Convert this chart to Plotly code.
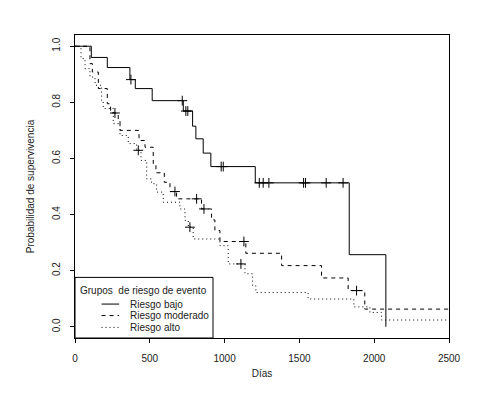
import plotly.graph_objects as go

# ---- data (days, survival probability) ----
groups = ["Riesgo bajo", "Riesgo moderado", "Riesgo alto"]
legend_title = "Grupos  de riesgo de evento"

bajo_times = [0, 109, 216, 367, 403, 516, 724, 786, 808, 857, 908, 1205, 1833, 2078]
bajo_surv = [1.0, 0.960, 0.924, 0.881, 0.849, 0.806, 0.769, 0.715, 0.670, 0.619, 0.571, 0.513, 0.257, 0.0]
bajo_end = 2078
bajo_cens_t = [374, 717, 741, 754, 977, 991, 1232, 1258, 1296, 1528, 1541, 1679, 1792]
bajo_cens_s = [0.881, 0.806, 0.769, 0.769, 0.571, 0.571, 0.513, 0.513, 0.513, 0.513, 0.513, 0.513, 0.513]

mod_times = [0, 100, 116, 156, 216, 238, 289, 301, 428, 468, 523, 541, 597, 635, 679, 846, 913, 935, 969,
             1142, 1381, 1648, 1826, 1937]
mod_surv = [1.0, 0.938, 0.908, 0.849, 0.795, 0.762, 0.736, 0.700, 0.664, 0.640, 0.581, 0.549, 0.515, 0.482,
            0.456, 0.420, 0.381, 0.343, 0.304, 0.262, 0.218, 0.174, 0.129, 0.063]
mod_end = 2500
mod_cens_t = [267, 668, 813, 862, 1129, 1882]
mod_cens_s = [0.762, 0.482, 0.456, 0.420, 0.304, 0.129]

alto_times = [0, 40, 67, 100, 134, 178, 189, 256, 301, 356, 412, 441, 479, 512, 546, 590, 701, 735, 757,
              790, 969, 1024, 1136, 1187, 1209, 1558, 1864, 1971, 2049]
alto_surv = [1.0, 0.956, 0.920, 0.890, 0.861, 0.807, 0.778, 0.724, 0.682, 0.653, 0.629, 0.593, 0.527,
             0.510, 0.480, 0.444, 0.420, 0.379, 0.355, 0.313, 0.289, 0.224, 0.189, 0.146, 0.122, 0.099,
             0.071, 0.051, 0.024]
alto_end = 2500
alto_cens_t = [423, 768, 1109]
alto_cens_s = [0.629, 0.355, 0.224]

x_ticks = [0, 500, 1000, 1500, 2000, 2500]
y_ticks = [0.0, 0.2, 0.4, 0.6, 0.8, 1.0]
y_tick_text = ["0.0", "0.2", "0.4", "0.6", "0.8", "1.0"]

FONT = "Liberation Sans, Arial, sans-serif"
TXT = "#222"

dashes = ["solid", "4px,4px", "1px,3px"]
series = [
    (bajo_times, bajo_surv, bajo_end, bajo_cens_t, bajo_cens_s),
    (mod_times, mod_surv, mod_end, mod_cens_t, mod_cens_s),
    (alto_times, alto_surv, alto_end, alto_cens_t, alto_cens_s),
]

fig = go.Figure()
for name, dash, (t, s, end, ct, cs) in zip(groups, dashes, series):
    xs = list(t) + [end]
    ys = list(s) + [s[-1]]
    fig.add_trace(go.Scatter(
        x=xs, y=ys, mode="lines", name=name, line_shape="hv", showlegend=False,
        line=dict(color="black", width=1, dash=dash)))
    fig.add_trace(go.Scatter(
        x=ct, y=cs, mode="markers", showlegend=False, name=name + " (censurado)",
        marker=dict(symbol="cross-thin", size=7, line=dict(color="black", width=1), color="black")))

# ---- legend box (R style, bottom-left inside the plot) ----
box_right, box_top = 0.369, 0.200
fig.add_shape(type="rect", xref="paper", yref="paper", x0=0, x1=box_right, y0=0, y1=box_top,
              line=dict(color="black", width=1), fillcolor="white", layer="above")
fig.add_annotation(xref="paper", yref="paper", x=0.008, y=0.158, xanchor="left", yanchor="middle",
                   text=legend_title, showarrow=False, font=dict(family=FONT, size=10, color=TXT))
row_y = [0.112, 0.074, 0.035]
for name, dash, ry in zip(groups, dashes, row_y):
    fig.add_shape(type="line", xref="paper", yref="paper", x0=0.071, x1=0.118, y0=ry, y1=ry,
                  line=dict(color="black", width=1, dash=dash), layer="above")
    fig.add_annotation(xref="paper", yref="paper", x=0.141, y=ry, xanchor="left", yanchor="middle",
                       text=name, showarrow=False, font=dict(family=FONT, size=10, color=TXT))

fig.update_layout(
    width=491, height=398,
    margin=dict(l=67, r=50, t=27, b=68, autoexpand=False),
    paper_bgcolor="white", plot_bgcolor="white",
    font=dict(family=FONT, size=10, color=TXT),
    showlegend=False,
)
fig.update_xaxes(
    range=[0, 2500], tickvals=x_ticks, ticks="outside", ticklen=4, tickcolor="black",
    ticklabelstandoff=7, automargin=False,
    showline=True, linecolor="black", linewidth=1, mirror=True, showgrid=False, zeroline=False,
    title=dict(text="Días", standoff=6, font=dict(size=10)),
)
fig.update_yaxes(
    range=[-0.04, 1.04], tickvals=y_ticks, ticktext=y_tick_text, tickangle=-90,
    ticks="outside", ticklen=4, tickcolor="black", ticklabelstandoff=6, automargin=False,
    showline=True, linecolor="black", linewidth=1, mirror=True, showgrid=False, zeroline=False,
    title=dict(text="Probabilidad de supervivencia", standoff=14, font=dict(size=10)),
)

fig.write_html("out.html")
